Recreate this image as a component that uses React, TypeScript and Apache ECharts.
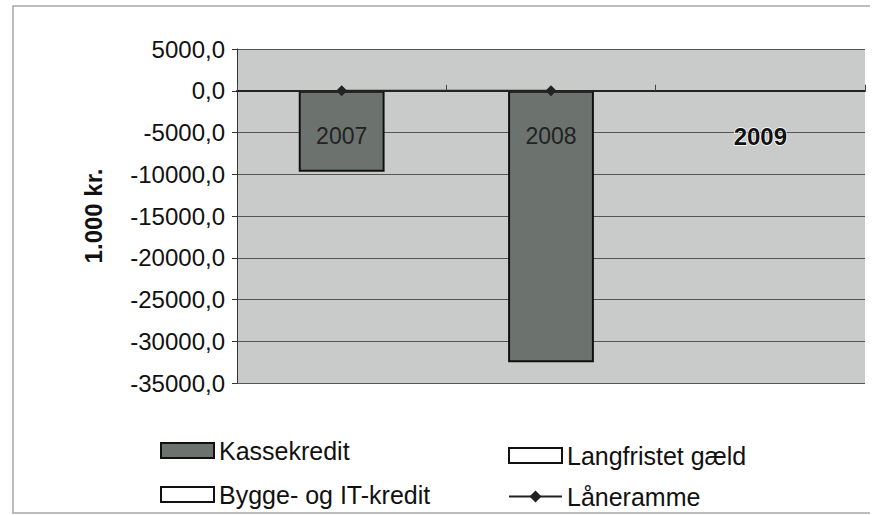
import React, { useEffect, useRef } from "react";
import * as echarts from "echarts";

const categories = ["2007", "2008", "2009"];
const kassekredit = [-9700, -32500, null];
const byggeIT = [null, null, null];
const langfristet = [null, null, null];
const laaneramme = [0, 0, null];

export default function App() {
  const ref = useRef<HTMLDivElement>(null);
  useEffect(() => {
    if (!ref.current) return;
    const chart = echarts.init(ref.current, null, { renderer: "svg" });
    const font = "Liberation Sans, Arial, sans-serif";
    chart.setOption({
      animation: false,
      backgroundColor: "#ffffff",
      textStyle: { fontFamily: font },
      grid: { left: 237, right: 9, top: 49, bottom: 132, backgroundColor: "#c8cbc9", show: true, borderWidth: 0 },
      graphic: [
        {
          type: "polyline",
          shape: { points: [[870, 6], [13, 6], [13, 513], [870, 513]] },
          style: { stroke: "#a8a8a8", lineWidth: 1.5, fill: null },
          silent: true,
        },
      ],
      legend: [
        {
          data: [
            { name: "Kassekredit", icon: "rect" },
            { name: "Bygge- og IT-kredit", icon: "rect" },
          ],
          orient: "vertical",
          left: 155,
          top: 433,
          itemWidth: 53,
          itemHeight: 15,
          itemGap: 19,
          textStyle: { fontSize: 25, color: "#111", fontFamily: font },
        },
        {
          data: [{ name: "Langfristet gæld", icon: "rect" }, "Låneramme"],
          orient: "vertical",
          left: 503,
          top: 438,
          itemWidth: 53,
          itemHeight: 15,
          itemGap: 16,
          textStyle: { fontSize: 25, color: "#111", fontFamily: font },
        },
      ],
      xAxis: {
        type: "category",
        data: categories,
        z: 10,
        axisLine: { onZero: true, lineStyle: { color: "#222", width: 2 } },
        axisTick: { show: true, alignWithLabel: false, inside: true, length: 6, lineStyle: { color: "#444" } },
        axisLabel: {
          margin: -259,
          fontSize: 23,
          color: "#222",
          fontFamily: font,
          formatter: (v: string) => (v === "2009" ? "{b|" + v + "}" : v),
          rich: {
            b: { fontSize: 24, color: "#111", fontWeight: "bold", textBorderColor: "#ffffff", textBorderWidth: 1.5, fontFamily: font },
          },
        },
        splitLine: { show: false },
      },
      yAxis: {
        type: "value",
        min: -35000,
        max: 5000,
        interval: 5000,
        name: "1.000 kr.",
        nameLocation: "middle",
        nameGap: 132,
        nameRotate: 90,
        nameTextStyle: { fontSize: 24, fontWeight: "bold", color: "#111", fontFamily: font },
        axisLine: { show: true, lineStyle: { color: "#333", width: 1 } },
        axisTick: { show: true, length: 5, lineStyle: { color: "#333" } },
        axisLabel: {
          fontSize: 24,
          color: "#111",
          margin: 12,
          fontFamily: font,
          formatter: (v: number) => v.toFixed(1).replace(".", ","),
        },
        splitLine: { show: true, lineStyle: { color: "#555", width: 1 } },
      },
      series: [
        {
          name: "Kassekredit",
          type: "bar",
          stack: "s",
          data: kassekredit,
          barWidth: "41%",
          itemStyle: { color: "#6c736f", borderColor: "#111", borderWidth: 2 },
        },
        {
          name: "Bygge- og IT-kredit",
          type: "bar",
          stack: "s",
          data: byggeIT,
          itemStyle: { color: "#ffffff", borderColor: "#111", borderWidth: 2 },
        },
        {
          name: "Langfristet gæld",
          type: "bar",
          stack: "s",
          data: langfristet,
          itemStyle: { color: "#ffffff", borderColor: "#111", borderWidth: 2 },
        },
        {
          name: "Låneramme",
          type: "line",
          data: laaneramme,
          symbol: "diamond",
          symbolSize: 11,
          lineStyle: { color: "#222", width: 2 },
          itemStyle: { color: "#222" },
          z: 5,
        },
      ],
    });
    return () => chart.dispose();
  }, []);
  return (
    <div
      ref={ref}
      style={{ position: "fixed", left: 0, top: 0, width: 874, height: 515 }}
    />
  );
}
